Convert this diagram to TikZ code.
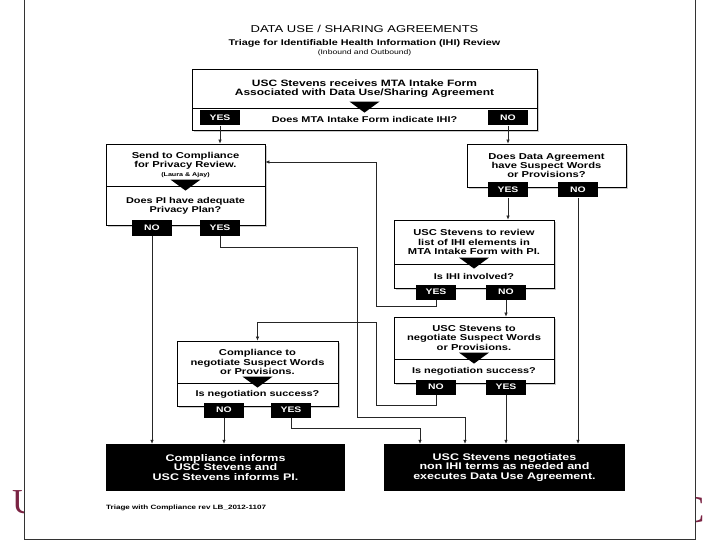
\documentclass[tikz,border=0pt]{standalone}
\usepackage{fontspec}
\setmainfont{Liberation Sans}[FakeStretch=1.3]
\newfontfamily\logofont{Liberation Serif}
\usepackage{tikz}
\usetikzlibrary{arrows.meta, shadows}
\definecolor{uscmaroon}{HTML}{7A2343}

\begin{document}
\begin{tikzpicture}[x=1pt, y=-1pt,
  textbox/.style={draw, fill=white, line width=0.8pt, align=center, inner sep=0pt,
    font=\bfseries\fontsize{8.6}{9.2}\selectfont,
    drop shadow={fill=black!45, opacity=0.45, shadow xshift=2pt, shadow yshift=-2pt}},
  question/.style={textbox, font=\bfseries\fontsize{8.4}{9}\selectfont},
  tab/.style={fill=black, text=white, inner sep=0pt, minimum width=40pt, minimum height=15pt,
    font=\bfseries\fontsize{8}{8}\selectfont},
  endbox/.style={fill=black, text=white, align=center, inner sep=0pt,
    font=\bfseries\fontsize{9.6}{9.4}\selectfont},
  flow/.style={draw=black!85, line width=0.6pt, -{Latex[length=4pt,width=3.5pt]}}]
\useasboundingbox (0,0) rectangle (720,540);

% slide behind the page
\node[uscmaroon, inner sep=0pt, anchor=base west, font=\logofont\fontsize{35}{35}\selectfont] at (12,513) {U};
\node[uscmaroon, inner sep=0pt, anchor=base east, font=\logofont\fontsize{38}{38}\selectfont] at (705,522) {C};
\fill[white] (24,-1) rectangle (695,539);
\draw[black!80, line width=0.8pt] (24,-1) -- (24,539) -- (695,539) -- (695,-1);

% titles
\node[font=\fontsize{10}{10}\selectfont] (title) at (364.5,29) {DATA USE / SHARING AGREEMENTS};
\node[font=\bfseries\fontsize{8.3}{8.3}\selectfont] (subtitle) at (364.5,43) {Triage for Identifiable Health Information (IHI) Review};
\node[font=\fontsize{6.6}{6.6}\selectfont] (inout) at (364.5,53) {(Inbound and Outbound)};

% boxes
\node[textbox, font=\bfseries\fontsize{9.2}{9.4}\selectfont, minimum width=345pt, minimum height=39pt] (intake) at (364.5,88.5)
  {USC Stevens receives MTA Intake Form\\Associated with Data Use/Sharing Agreement};
\node[question, minimum width=345pt, minimum height=22pt] (intakeq) at (364.5,119)
  {Does MTA Intake Form indicate IHI?};

\node[textbox, minimum width=159pt, minimum height=42pt] (comp) at (185.5,165)
  {Send to Compliance\\for Privacy Review.\\{\fontsize{5.5}{5.5}\selectfont(Laura \& Ajay)}};
\node[question, minimum width=159pt, minimum height=39pt] (compq) at (185.5,205.5)
  {Does PI have adequate\\Privacy Plan?};

\node[textbox, minimum width=159pt, minimum height=43pt] (data) at (546.5,165.5)
  {Does Data Agreement\\have Suspect Words\\or Provisions?};

\node[textbox, minimum width=160pt, minimum height=44pt] (review) at (474,242)
  {USC Stevens to review\\list of IHI elements in\\MTA Intake Form with PI.};
\node[question, minimum width=160pt, minimum height=24pt] (reviewq) at (474,276)
  {Is IHI involved?};

\node[textbox, minimum width=160pt, minimum height=42pt] (uscneg) at (474,338)
  {USC Stevens to\\negotiate Suspect Words\\or Provisions.};
\node[question, minimum width=160pt, minimum height=24pt] (uscnegq) at (474,371)
  {Is negotiation success?};

\node[textbox, minimum width=161pt, minimum height=42pt] (compneg) at (257.5,362)
  {Compliance to\\negotiate Suspect Words\\or Provisions.};
\node[question, minimum width=161pt, minimum height=23pt] (compnegq) at (257.5,394.5)
  {Is negotiation success?};

\node[endbox, minimum width=239pt, minimum height=47pt] (fail) at (225.5,467.5)
  {Compliance informs\\USC Stevens and\\USC Stevens informs PI.};
\node[endbox, minimum width=241pt, minimum height=47pt] (done) at (504.5,467.5)
  {USC Stevens negotiates\\non IHI terms as needed and\\executes Data Use Agreement.};

% triangles on the dividers
\foreach \q in {intakeq, compq, reviewq, uscnegq, compnegq}
  \fill ([shift={(-15,-6)}]\q.north) -- ([shift={(15,-6)}]\q.north) -- ([shift={(0,5)}]\q.north) -- cycle;

% answer tabs
\node[tab] (yesI) at (220,118) {YES};
\node[tab] (noI) at (508,118) {NO};
\node[tab] (noP) at (152,228) {NO};
\node[tab] (yesP) at (220,228) {YES};
\node[tab] (yesD) at (508,190) {YES};
\node[tab] (noD) at (578,190) {NO};
\node[tab] (yesR) at (436,292) {YES};
\node[tab] (noR) at (506,292) {NO};
\node[tab] (noU) at (436,387) {NO};
\node[tab] (yesU) at (506,387) {YES};
\node[tab] (noC) at (224,410) {NO};
\node[tab] (yesC) at (291,410) {YES};

% bends
\coordinate (back) at (376,162);
\coordinate (loopb) at (376,322);
\coordinate (drop) at (357,417);

% connectors
\draw[flow] (yesI.south) -- (yesI.south |- comp.north);
\draw[flow] (noI.south) -- (noI.south |- data.north);
\draw[flow] (yesD.south) -- (yesD.south |- review.north);
\draw[flow] (noD.south) -- (noD.south |- done.north);
\draw[flow] (noP.south) -- (noP.south |- fail.north);
\draw[flow] (yesR.south) -- ++(0,7) -| (back) -- (back -| comp.east);
\draw[flow] (noR.south) -- (noR.south |- uscneg.north);
\draw[flow] (noU.south) -- ++(0,11) -| (loopb) -| (compneg.north);
\draw[flow] (yesU.south) -- (yesU.south |- done.north);
\draw[flow] (yesP.south) -- ++(0,12) -| (drop) -| ([xshift=-39.5pt]done.north);
\draw[flow] (noC.south) -- (noC.south |- fail.north);
\draw[flow] (yesC.south) -- ++(0,11) -| ([xshift=-84.5pt]done.north);

% footnote
\node[anchor=west, inner sep=0pt, font=\bfseries\fontsize{6.2}{6.2}\selectfont] (note) at (106,508)
  {Triage with Compliance rev LB\_2012-1107};
\end{tikzpicture}
\end{document}
